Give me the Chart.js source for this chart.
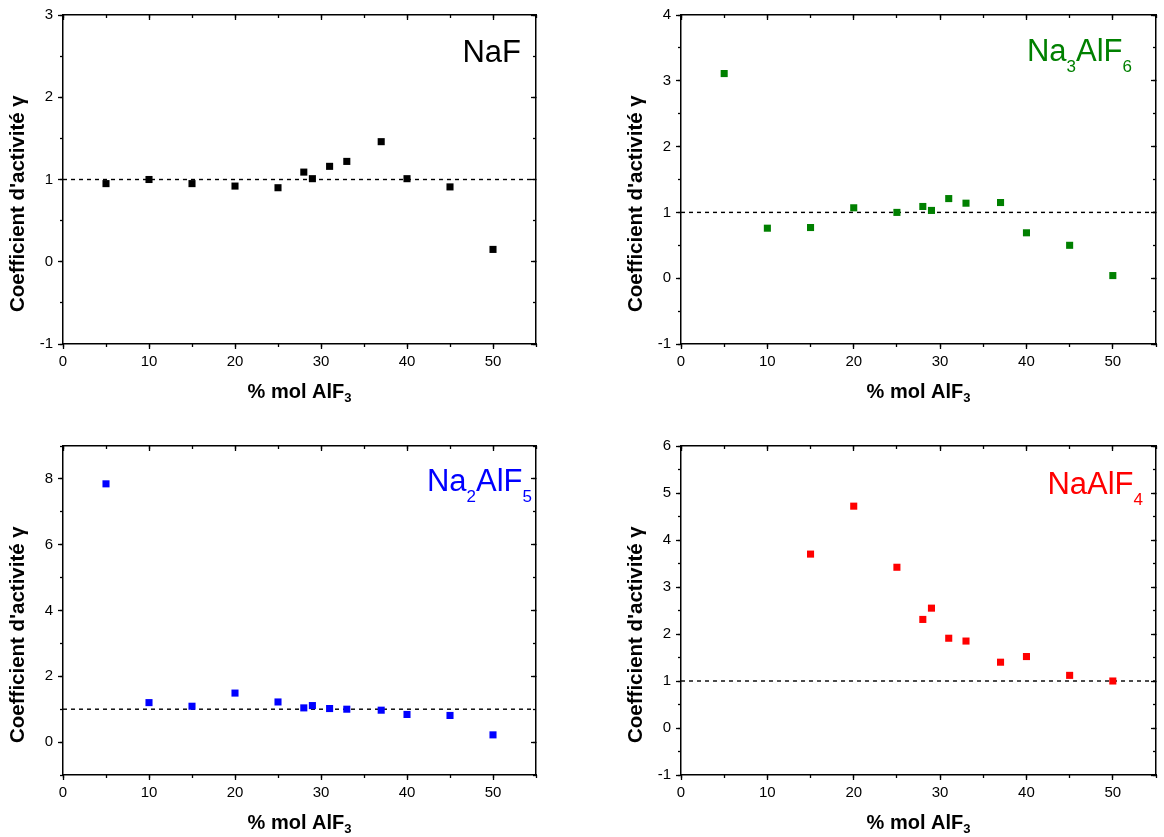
<!DOCTYPE html>
<html>
<head>
<meta charset="utf-8">
<script src="https://cdn.jsdelivr.net/npm/chart.js@4.4.0/dist/chart.umd.min.js"></script>
<style>
  html, body { margin: 0; padding: 0; background: #fff; }
  #wrap { position: relative; width: 1164px; height: 837px; overflow: hidden; }
  #wrap canvas { position: absolute; left: 0; top: 0; }
</style>
</head>
<body>
<div id="wrap">
  <canvas id="cNaF" width="1164" height="837"></canvas>
  <canvas id="cNa3AlF6" width="1164" height="837"></canvas>
  <canvas id="cNa2AlF5" width="1164" height="837"></canvas>
  <canvas id="cNaAlF4" width="1164" height="837"></canvas>
</div>
<script>
// ---- data ----
const molPct = [5, 10, 15, 20, 25, 28, 29, 31, 33, 37, 40, 45, 50];
const gammaNaF = [0.95, 1.00, 0.95, 0.92, 0.90, 1.09, 1.01, 1.16, 1.22, 1.46, 1.01, 0.91, 0.15];
const gammaNa3AlF6 = [3.11, 0.76, 0.77, 1.07, 1.00, 1.09, 1.03, 1.21, 1.14, 1.15, 0.69, 0.50, 0.04];
const gammaNa2AlF5 = [7.85, 1.20, 1.09, 1.49, 1.22, 1.04, 1.11, 1.02, 1.00, 0.97, 0.84, 0.81, 0.22];
const molPctNaAlF4 = [15, 20, 25, 28, 29, 31, 33, 37, 40, 45, 50];
const gammaNaAlF4 = [3.70, 4.72, 3.42, 2.31, 2.55, 1.91, 1.85, 1.40, 1.52, 1.12, 1.00];

// ideal behaviour, gamma = 1
const idealX = [0, 55];
const idealY = [1, 1];

// axis ranges [min, max, major step, minor step]
const xRange = [0, 55, 10, 5];
const yRangeNaF = [-1, 3, 1, 0.5];
const yRangeNa3AlF6 = [-1, 4, 1, 0.5];
const yRangeNa2AlF5 = [-1, 9, 2, 1];
const yRangeNaAlF4 = [-1, 6, 1, 0.5];

const xTitle = '% mol AlF_3';
const yTitle = "Coefficient d'activité γ";

const FONT = '"Liberation Sans", Arial, Helvetica, sans-serif';

// draw text where "_d" is a subscript digit
function drawRich(ctx, str, x, y, size, subSize, subDrop, align, bold) {
    const parts = str.split(/_(\d)/);
    const w = bold ? 'bold ' : '';
    let total = 0;
    parts.forEach((p, i) => {
        ctx.font = w + (i % 2 ? subSize : size) + 'px ' + FONT;
        total += ctx.measureText(p).width;
    });
    let cx = align === 'right' ? x - total : align === 'center' ? x - total / 2 : x;
    ctx.textAlign = 'left';
    parts.forEach((p, i) => {
        ctx.font = w + (i % 2 ? subSize : size) + 'px ' + FONT;
        ctx.fillText(p, cx, i % 2 ? y + subDrop : y);
        cx += ctx.measureText(p).width;
    });
}

// axis titles and the species label of each panel
const panelText = {
    id: 'panelText',
    afterDraw(chart, args, opts) {
        const ctx = chart.ctx;
        const a = chart.chartArea;
        ctx.save();
        ctx.fillStyle = '#000';
        ctx.textBaseline = 'middle';
        drawRich(ctx, xTitle, (a.left + a.right) / 2, a.bottom + 48, 20, 13, 6, 'center', true);

        ctx.translate(a.left - 45, a.bottom - 32);
        ctx.rotate(-Math.PI / 2);
        ctx.font = 'bold 20.5px ' + FONT;
        ctx.textAlign = 'left';
        ctx.fillText(yTitle, 0, 0);
        ctx.restore();

        ctx.save();
        ctx.fillStyle = opts.color;
        ctx.textBaseline = 'alphabetic';
        drawRich(ctx, opts.label, a.right - opts.inset, a.top + opts.base, 31, 17, 11, 'right', false);
        ctx.restore();
    }
};

function axis(pos, range, step, tickLen, withLabels, weight, size) {
    const horizontal = pos === 'top' || pos === 'bottom';
    return {
        type: 'linear',
        position: pos,
        min: range[0],
        max: range[1],
        weight: weight,
        afterBuildTicks: s => {
            // ticks on multiples of the step only
            const ticks = [];
            const first = Math.ceil(range[0] / step - 1e-9) * step;
            for (let v = first; v <= range[1] + 1e-9; v += step) {
                ticks.push({ value: Math.round(v * 1000) / 1000 });
            }
            s.ticks = ticks;
        },
        ticks: {
            display: withLabels,
            autoSkip: false,
            maxRotation: 0,
            padding: horizontal ? 4 : 5,
            color: '#000',
            font: { family: FONT, size: 15 },
            callback: v => String(v)
        },
        grid: {
            drawOnChartArea: false,
            drawTicks: true,
            tickLength: tickLen,
            tickColor: '#000',
            tickWidth: 1.3
        },
        border: { display: weight === 1, color: '#000', width: 1.5 },
        afterFit: s => {
            if (horizontal) s.height = size; else s.width = size;
        }
    };
}

function makePanel(id, geo, xs, ys, yRange, color, label, inset, base) {
    const points = xs.map((x, i) => ({ x: x, y: ys[i] }));
    const ideal = idealX.map((x, i) => ({ x: x, y: idealY[i] }));
    return new Chart(document.getElementById(id), {
        type: 'scatter',
        data: {
            datasets: [
                {
                    data: points,
                    pointStyle: 'rect',
                    pointRadius: 5,
                    pointBorderWidth: 0,
                    backgroundColor: color,
                    borderColor: color,
                    showLine: false
                },
                {
                    data: ideal,
                    showLine: true,
                    borderColor: '#000',
                    borderWidth: 1.4,
                    borderDash: [4, 4],
                    pointRadius: 0,
                    fill: false
                }
            ]
        },
        options: {
            responsive: false,
            animation: false,
            events: [],
            layout: { padding: { left: 0, top: geo.top, right: 1164 - geo.right, bottom: 0 } },
            plugins: {
                legend: { display: false },
                tooltip: { enabled: false },
                panelText: { color: color, label: label, inset: inset, base: base }
            },
            scales: {
                x: axis('bottom', xRange, xRange[2], 5, true, 1, 837 - geo.bottom),
                xMinor: axis('bottom', xRange, xRange[3], 3, false, 0, 0),
                xTop: axis('top', xRange, xRange[2], -5, false, 1, 0),
                xTopMinor: axis('top', xRange, xRange[3], -3, false, 0, 0),
                y: axis('left', yRange, yRange[2], 5, true, 1, geo.left),
                yMinor: axis('left', yRange, yRange[3], 3, false, 0, 0),
                yRight: axis('right', yRange, yRange[2], -5, false, 1, 0),
                yRightMinor: axis('right', yRange, yRange[3], -3, false, 0, 0)
            }
        },
        plugins: [panelText]
    });
}

makePanel('cNaF', { left: 63, right: 536, top: 15, bottom: 344 },
    molPct, gammaNaF, yRangeNaF, '#000000', 'NaF', 15, 47);
makePanel('cNa3AlF6', { left: 681, right: 1156, top: 15, bottom: 344 },
    molPct, gammaNa3AlF6, yRangeNa3AlF6, '#008000', 'Na_3AlF_6', 24, 46);
makePanel('cNa2AlF5', { left: 63, right: 536, top: 446, bottom: 775 },
    molPct, gammaNa2AlF5, yRangeNa2AlF5, '#0000FF', 'Na_2AlF_5', 4, 45);
makePanel('cNaAlF4', { left: 681, right: 1156, top: 446, bottom: 775 },
    molPctNaAlF4, gammaNaAlF4, yRangeNaAlF4, '#FF0000', 'NaAlF_4', 13, 48);
</script>
</body>
</html>
